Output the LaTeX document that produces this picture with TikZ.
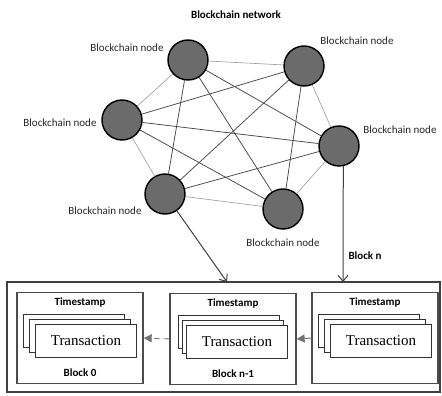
\documentclass[tikz,border=0pt]{standalone}
\usepackage{fontspec}
\setmainfont{Carlito}
\newfontfamily\txfont{Liberation Serif}
\usetikzlibrary{arrows.meta,positioning,calc}

\begin{document}
\begin{tikzpicture}[x=1pt,y=-1pt,>=Stealth,font=\fontsize{11}{13}\selectfont]
\tikzstyle{bn}=[circle,draw=black,line width=1.4pt,fill=black!58,minimum size=40pt,inner sep=0pt]
\tikzstyle{lbl}=[text=black!85,inner sep=1pt]
\tikzstyle{e}=[draw=black!72,line width=0.75pt]
\tikzstyle{el}=[draw=black!40,line width=0.6pt]
\tikzstyle{blk}=[draw=black!70,line width=1.3pt,minimum width=126pt,minimum height=91pt,inner sep=0pt]
\tikzstyle{tx}=[draw=black!80,line width=1pt,fill=white,minimum width=101pt,minimum height=33pt,inner sep=0pt,font=\txfont\fontsize{15}{17}\selectfont]
\tikzstyle{bl}=[font=\fontsize{11}{13}\selectfont\bfseries,inner sep=0pt]
\tikzstyle{down}=[-{Straight Barb[length=6pt,width=10pt]},draw=black!75,line width=1pt]
\useasboundingbox (0,0) rectangle (442,396);

% network
\node[bl] (title) at (236,15) {Blockchain network};
\node[bn] (n1) at (188,60) {};
\node[bn] (n2) at (304,66) {};
\node[bn] (n3) at (122,120) {};
\node[bn] (n4) at (339,146) {};
\node[bn] (n5) at (165,194) {};
\node[bn] (n6) at (283,209) {};
\node[lbl] (l1) at (127,48) {Blockchain node};
\node[lbl] (l2) at (357,41) {Blockchain node};
\node[lbl] (l3) at (60,123) {Blockchain node};
\node[lbl] (l4) at (400,130) {Blockchain node};
\node[lbl] (l5) at (105,211) {Blockchain node};
\node[lbl] (l6) at (283,243) {Blockchain node};
\draw[el] (n1) -- (n2); \draw[el] (n1) -- (n3); \draw[e] (n1) -- (n4); \draw[e] (n1) -- (n5); \draw[e] (n1) -- (n6);
\draw[e] (n2) -- (n3); \draw[el] (n2) -- (n4); \draw[e] (n2) -- (n5); \draw[e] (n2) -- (n6);
\draw[e] (n3) -- (n4); \draw[el] (n3) -- (n5); \draw[e] (n3) -- (n6);
\draw[e] (n4) -- (n5); \draw[el] (n4) -- (n6); \draw[el] (n5) -- (n6);

% chain
\node[draw=black!75,line width=1.8pt,minimum width=433pt,minimum height=110pt,inner sep=0pt] (chain) at (223.5,337) {};
\coordinate (a1) at (227,282);
\coordinate (a2) at (343,282);
\draw[down] (n5) -- (a1);
\draw[down] (n4.-78) -- node[right,pos=0.77,bl,xshift=5pt] (bnl) {Block n} (a2);

\node[blk] (b0) at (80,338) {};
\node[blk] (b1) at (233,339) {};
\node[blk] (b2) at (375,338) {};
\node[bl,below=6pt of b0.north] (t0) {Timestamp};
\node[bl,below=6pt of b1.north] (t1) {Timestamp};
\node[bl,below=6pt of b2.north] (t2) {Timestamp};
\node[tx] (x0a) at ($(b0)+(-6,-7)$) {};
\node[tx] (x0b) at ($(b0)+(0,-2)$) {};
\node[tx] (x0c) at ($(b0)+(6,3)$) {Transaction};
\node[tx] (x1a) at ($(b1)+(-4,-7)$) {};
\node[tx] (x1b) at ($(b1)+(0,-2)$) {};
\node[tx] (x1c) at ($(b1)+(4,3)$) {Transaction};
\node[tx] (x2a) at ($(b2)+(-6,-7)$) {};
\node[tx] (x2b) at ($(b2)+(0,-2)$) {};
\node[tx] (x2c) at ($(b2)+(6,3)$) {Transaction};
\node[bl,above=7pt of b0.south] (k0) {Block 0};
\node[bl,above=7pt of b1.south] (k1) {Block n-1};
\draw[-{Triangle[length=8pt,width=8pt]},draw=black!55,fill=black!55,line width=1pt,dash pattern=on 5pt off 5pt] (b1.west) -- (b0.east);
\draw[-{Triangle[length=8pt,width=8pt]},draw=black!55,fill=black!55,line width=1pt] (b2.west) -- (b1.east);
\end{tikzpicture}
\end{document}
